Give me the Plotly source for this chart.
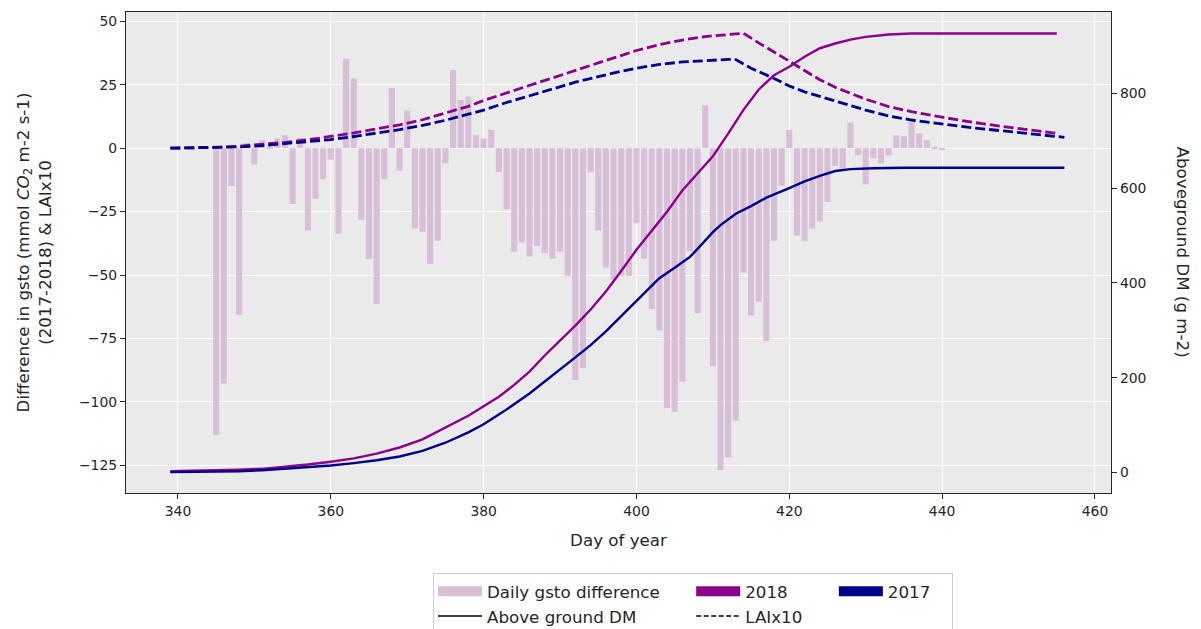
import plotly.graph_objects as go

# ---------------- data ----------------
gsto_days = list(range(345, 441))
gsto_diff = [
    -113.0, -92.7, -14.9, -65.6, 2.0, -6.5, 3.1, 0.5, 3.8, 5.1,
    -22.0, 4.1, -32.4, -19.9, -12.2, -4.5, -33.7, 35.2, 27.5, -28.2,
    -43.7, -61.4, -12.2, 23.7, -8.8, 14.8, -31.7, -33.0, -45.6, -36.5,
    -6.0, 30.8, 19.0, 20.3, 5.1, 3.7, 7.2, -9.4, -24.1, -40.7,
    -37.2, -42.7, -38.6, -41.4, -43.5, -40.7, -50.3, -91.4, -86.6, -9.5,
    -32.4, -47.0, -52.0, -50.3, -50.3, -29.6, -43.6, -63.4, -71.9, -102.4,
    -103.9, -92.1, -40.6, -65.1, 16.9, -85.9, -126.8, -121.9, -107.4, -49.0,
    -65.9, -60.5, -76.1, -36.5, -14.8, 7.2, -34.4, -36.5, -31.7, -28.9,
    -21.2, -7.0, -8.0, 10.1, -2.8, -14.3, -4.0, -6.0, -2.8, 5.1,
    4.7, 10.3, 5.8, 3.1, 0.5, -0.4,
]

dm_days_2018 = [339, 342, 345, 348, 351, 354, 357, 360, 363, 366, 369, 372, 375, 378,
                380, 382, 384, 386, 388, 390, 392, 394, 396, 398, 400, 402, 404, 406,
                408, 410, 412, 414, 416, 418, 420, 422, 424, 426, 428, 430, 433, 436,
                440, 445, 450, 455]
dm_2018 = [3, 3.5, 4.5, 6, 8, 12, 17, 23, 30, 40, 53, 70, 95, 120,
           140, 160, 185, 213, 247, 278, 310, 344, 382, 425, 470, 510, 550, 595,
           632, 667, 715, 765, 808, 838, 856, 877, 895, 905, 913, 919, 924, 926,
           926, 926, 926, 926]

dm_days_2017 = [339, 342, 345, 348, 351, 354, 357, 360, 363, 366, 369, 372, 375, 378,
                380, 383, 386, 388, 390, 392, 394, 396, 398, 400, 402, 403, 405, 407,
                408, 409, 410, 411, 412, 413, 415, 417, 420, 422, 424, 426, 428, 431,
                435, 440, 445, 450, 456]
dm_2017 = [1, 1.5, 2, 3, 5, 8, 11, 15, 20, 26, 34, 46, 63, 85,
           102, 133, 167, 192, 218, 243, 269, 298, 330, 362, 392, 410, 432, 455,
           472, 490, 507, 522, 535, 546, 562, 580, 600, 614, 626, 636, 640, 642,
           643, 643, 643, 643, 643]

lai_days_2018 = [339, 342, 345, 348, 351, 354, 357, 360, 363, 366, 369, 372, 375, 378,
                 380, 383, 386, 389, 392, 395, 398, 400, 403, 406, 409, 412, 414, 416,
                 418, 420, 422, 424, 426, 428, 430, 433, 436, 440, 444, 448, 452, 455]
lai_2018 = [0, 0.1, 0.3, 0.8, 1.5, 2.3, 3.3, 4.6, 6.0, 7.6, 9.2, 11.2, 13.8, 16.5,
            18.8, 21.8, 24.5, 27.5, 30.8, 33.6, 36.5, 38.5, 40.8, 42.6, 44.0, 44.9, 45.3, 41.5,
            38.0, 34.3, 30.6, 27.0, 24.0, 21.5, 19.3, 16.4, 14.4, 12.2, 10.2, 8.5, 6.9, 5.9]

lai_days_2017 = [339, 342, 345, 348, 351, 354, 357, 360, 363, 366, 369, 372, 375, 378,
                 380, 383, 386, 389, 392, 395, 398, 400, 403, 406, 409, 412, 413, 415,
                 418, 420, 422, 424, 426, 428, 430, 433, 436, 440, 444, 448, 452, 456]
lai_2017 = [0, 0.1, 0.2, 0.5, 1.0, 1.7, 2.5, 3.4, 4.6, 5.9, 7.3, 9.0, 11.0, 13.4,
            15.0, 18.0, 20.5, 23.3, 26.0, 28.3, 30.3, 31.5, 33.0, 34.0, 34.6, 35.0, 34.9, 31.5,
            27.5, 24.5, 22.2, 20.3, 18.6, 16.8, 15.0, 12.7, 11.1, 9.5, 8.0, 6.8, 5.5, 4.3]

x_ticks = [340, 360, 380, 400, 420, 440, 460]
y_ticks = [-125, -100, -75, -50, -25, 0, 25, 50]
y2_ticks = [0, 200, 400, 600, 800]

# ---------------- style ----------------
C_BAR = "#D8BFD8"
C_2018 = "#8B008B"
C_2017 = "#00008B"
INK = "#262626"
FONT = "DejaVu Sans"
NB = "\u00a0"

fig = go.Figure()

fig.add_trace(go.Bar(x=gsto_days, y=gsto_diff, width=0.8,
                     marker=dict(color=C_BAR, line=dict(width=0)),
                     showlegend=False, yaxis="y"))

# legend entries (3 columns x 2 rows, column-major like the reference)
fig.add_trace(go.Scatter(x=[None], y=[None], mode="lines", name="Daily gsto difference" + NB * 5,
                         line=dict(color=C_BAR, width=12), legendgroup="c1"))
fig.add_trace(go.Scatter(x=[None], y=[None], mode="lines", name="2018",
                         line=dict(color=C_2018, width=12), legendgroup="c2"))
fig.add_trace(go.Scatter(x=[None], y=[None], mode="lines", name="2017" + NB * 3,
                         line=dict(color=C_2017, width=12), legendgroup="c3"))
fig.add_trace(go.Scatter(x=[None], y=[None], mode="lines", name="Above ground DM",
                         line=dict(color="black", width=1.4), legendgroup="c1"))
fig.add_trace(go.Scatter(x=[None], y=[None], mode="lines", name="LAIx10" + NB * 5,
                         line=dict(color="black", width=1.4, dash="5px,2.5px"), legendgroup="c2"))

# LAI x10 (left axis)
fig.add_trace(go.Scatter(x=lai_days_2018, y=lai_2018, mode="lines", showlegend=False,
                         line=dict(color=C_2018, width=2.8, dash="10px,4px"), yaxis="y"))
fig.add_trace(go.Scatter(x=lai_days_2017, y=lai_2017, mode="lines", showlegend=False,
                         line=dict(color=C_2017, width=2.8, dash="10px,4px"), yaxis="y"))

# Aboveground DM (right axis)
fig.add_trace(go.Scatter(x=dm_days_2018, y=dm_2018, mode="lines", showlegend=False,
                         line=dict(color=C_2018, width=2.4), yaxis="y2"))
fig.add_trace(go.Scatter(x=dm_days_2017, y=dm_2017, mode="lines", showlegend=False,
                         line=dict(color=C_2017, width=2.4), yaxis="y2"))

axis_common = dict(ticks="outside", ticklen=5, tickwidth=1, tickcolor=INK,
                   showline=True, linecolor=INK, linewidth=1.2, zeroline=False,
                   tickfont=dict(family=FONT, size=13.9, color=INK))

fig.update_layout(
    width=1193, height=621,
    margin=dict(l=118, r=90, t=4, b=136, autoexpand=False),
    paper_bgcolor="white", plot_bgcolor="#EAEAEA",
    font=dict(family=FONT, size=13.9, color=INK),
    xaxis=dict(range=[333.2, 462.1], tickvals=x_ticks, mirror=True,
               showgrid=True, gridcolor="white", gridwidth=1,
               title=dict(text="Day of year", font=dict(family=FONT, size=16.7, color=INK), standoff=16),
               **axis_common),
    yaxis=dict(range=[-135.9, 53.67], tickvals=y_ticks, mirror=True,
               showgrid=True, gridcolor="white", gridwidth=1,
               title=dict(text="Difference in gsto (mmol <i>CO</i><sub>2</sub> m-2 s-1)<br>(2017-2018) &amp; LAIx10",
                          font=dict(family=FONT, size=16.7, color=INK), standoff=23),
               **axis_common),
    yaxis2=dict(range=[-43, 971.4], tickvals=y2_ticks, overlaying="y", side="right",
                showgrid=False, **axis_common),
    legend=dict(orientation="h", traceorder="grouped", x=0.3117, xanchor="left",
                y=-0.1663, yanchor="top", bgcolor="white", bordercolor="#CCCCCC",
                borderwidth=1, itemwidth=44, font=dict(family=FONT, size=16.7, color=INK)),
    annotations=[dict(text="Aboveground DM (g m-2)", textangle=90, x=1.074, y=0.5,
                      xref="paper", yref="paper", xanchor="center", yanchor="middle",
                      showarrow=False, font=dict(family=FONT, size=16.7, color=INK))],
)

fig.write_html("out.html")
